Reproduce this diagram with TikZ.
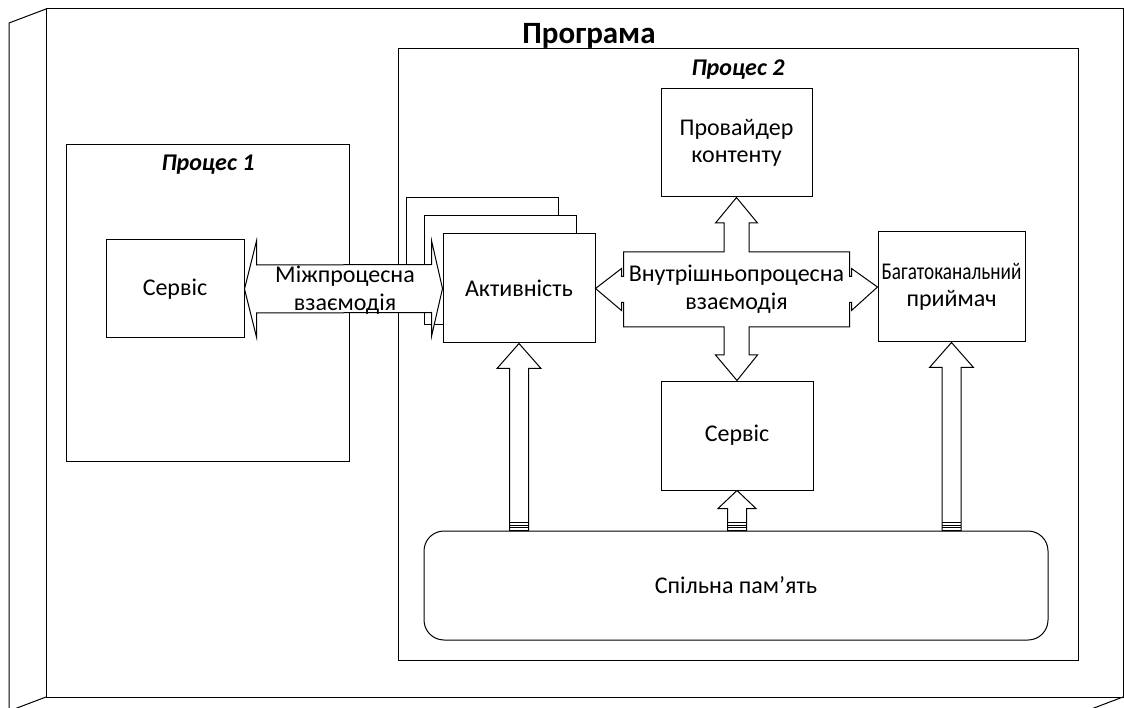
\documentclass[tikz,border=0pt]{standalone}
\usepackage{fontspec}
\setmainfont{Carlito}
\usetikzlibrary{calc}

\tikzset{
  box/.style={draw, line width=1pt, fill=white, inner sep=0pt, align=center,
    font=\fontsize{24}{27}\selectfont},
  blockarrow/.style={draw, line width=1pt, fill=white, line join=miter},
  lbl/.style={align=center, inner sep=0pt, font=\fontsize{24}{28}\selectfont},
  hdr/.style={inner sep=0pt, font=\bfseries\itshape\fontsize{24}{28}\selectfont},
}

\begin{document}
\begin{tikzpicture}[x=1pt, y=-1pt]
    \useasboundingbox (0,0) rectangle (1124,708);
    \clip (0,0) rectangle (1124,708);

    % program frame (3d)
    \draw[line width=1pt] (46,9) rectangle (1123,697);
    \draw[line width=1pt] (46,9) -- (9,23) -- (9,711);
    \draw[line width=1pt] (46,697) -- (9,711);
    \draw[line width=1pt] (1123,697) -- (1086,711);
    \node[inner sep=0pt, font=\bfseries\fontsize{31}{34}\selectfont] (title) at (589,36) {Програма};

    % process 1
    \node[box, minimum width=283pt, minimum height=316pt] (proc1) at (207.5,303) {};
    \node[hdr] (proc1lbl) at (208,165) {Процес 1};
    \node[box, minimum width=138pt, minimum height=98pt] (srv1) at (175,289) {Сервіс};

    % process 2
    \node[box, minimum width=680pt, minimum height=611pt] (proc2) at (738,354.5) {};
    \node[hdr] (proc2lbl) at (738,70) {Процес 2};

    % activity (stacked)
    \node[box, minimum width=152pt, minimum height=109pt] (act2) at (482,252.5) {};
    \node[box, minimum width=152pt, minimum height=109pt] (act1) at (500.5,270.5) {};
    \node[box, minimum width=152pt, minimum height=109pt] (act) at (519,288.5) {Активність};

    \node[box, minimum width=151pt, minimum height=108pt] (prov) at (736.5,143) {Провайдер\\контенту};
    \node[box, minimum width=147pt, minimum height=110pt] (recv) at (951.5,287)
        {\scalebox{0.8}[1]{Багатоканальний}\\приймач};
    \node[box, minimum width=152pt, minimum height=109pt] (srv2) at (737,435.5) {Сервіс};
    \node[box, rounded corners=20pt, minimum width=624pt, minimum height=109pt] (mem) at (736,585.5) {Спільна пам’ять};

    % inter-process arrow
    \draw[blockarrow] (srv1.east) -- ++(12,-48) -- ++(0,24) -- ($(act.west)+(-11,-24)$) -- ++(0,-24)
        -- (act.west) -- ++(-11,48) -- ++(0,-24) -- ($(srv1.east)+(12,24)$) -- ++(0,24) -- cycle;
    \node[lbl] (ipc) at (345,290) {Міжпроцесна\\взаємодія};

    % intra-process cross arrow
    \coordinate (intra) at (736.5,289.5);
    \begin{scope}[shift={(intra)}]
    \draw[blockarrow] (-113,-37.5) -- (-12.5,-37.5) -- (-12.5,-66.5) -- (-21,-66.5) -- (prov.south)
        -- (21,-66.5) -- (12.5,-66.5) -- (12.5,-37.5) -- (113,-37.5) -- (113,-13) -- (115,-13)
        -- (115,-21) -- (recv.west) -- (115,21) -- (115,13) -- (113,13) -- (113,37.5)
        -- (12.5,37.5) -- (12.5,65.5) -- (21,65.5) -- (srv2.north) -- (-21,65.5) -- (-12.5,65.5)
        -- (-12.5,37.5) -- (-113,37.5) -- (-113,13) -- (-115,13) -- (-115,21) -- (act.east)
        -- (-115,-21) -- (-115,-13) -- (-113,-13) -- cycle;
    \end{scope}
    \node[lbl] (intralbl) at (intra) {Внутрішньопроцесна\\взаємодія};

    % shared memory arrows
    \foreach \t/\hw/\hl in {act/22/25, srv2/19/18, recv/22/25} {
        \draw[blockarrow] (\t.south) -- ++(\hw,\hl) -- ++(9.5-\hw,0) -- ($(\t.south |- mem.north)+(9.5,0)$)
            -- ++(-19,0) -- ($(\t.south)+(-9.5,\hl)$) -- ++(9.5-\hw,0) -- cycle;
        \foreach \d in {3,5.5,8}
            \draw[line width=1pt] ($(\t.south |- mem.north)+(-9.5,-\d)$) -- ++(19,0);
    }

\end{tikzpicture}
\end{document}
